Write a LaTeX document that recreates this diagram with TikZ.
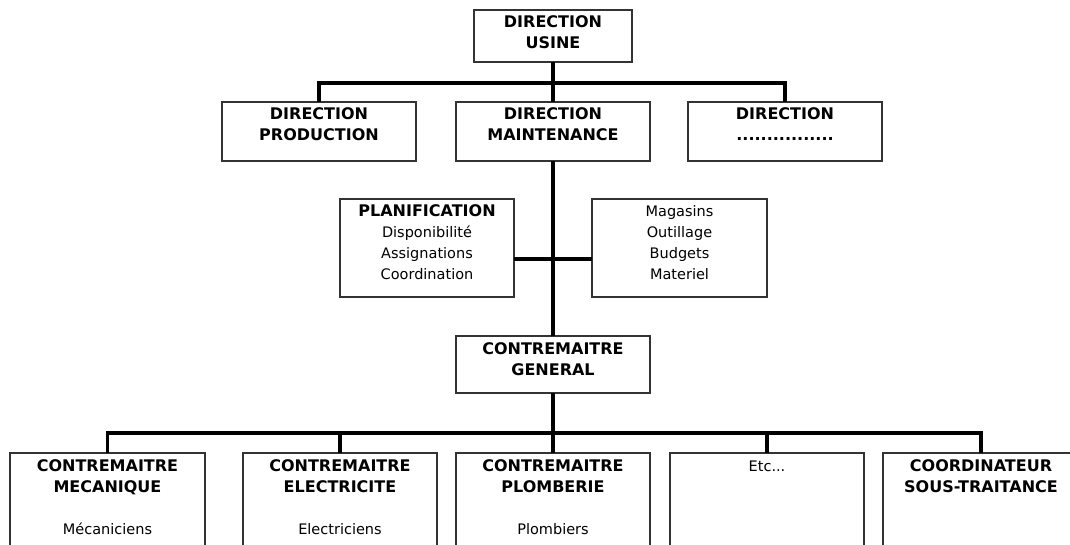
\documentclass[tikz,border=0pt]{standalone}
\usepackage{fontspec}
\setmainfont{DejaVu Sans}
\definecolor{boxgray}{HTML}{333333}
% heading and body text
\newcommand{\hd}{\fontsize{16pt}{21pt}\selectfont\bfseries}
\newcommand{\tx}{\fontsize{14.5pt}{21pt}\selectfont\mdseries}
% box content: width, height, text (top aligned, centred)
\newcommand{\boxtext}[3]{\parbox[c][#2pt][t]{#1pt}{\centering\rule{0pt}{18pt}#3}}
\begin{document}
\begin{tikzpicture}[x=1pt,y=-1pt,
  box/.style={draw=boxgray,line width=1.7pt,inner sep=0pt,outer sep=0pt,anchor=north west},
  link/.style={line width=3.3pt,black}]
\useasboundingbox (0,0) rectangle (1070,545);
\clip (0,0) rectangle (1070,545);

% top level
\node[box] (usine) at (474,10) {\boxtext{158}{52}{\hd DIRECTION\\USINE}};

% directions
\node[box] (prod)  at (222,102) {\boxtext{194}{59}{\hd DIRECTION\\PRODUCTION}};
\node[box] (maint) at (456,102) {\boxtext{194}{59}{\hd DIRECTION\\MAINTENANCE}};
\node[box] (autre) at (688,102) {\boxtext{194}{59}{\hd DIRECTION\\................}};

% staff functions
\node[box] (plan) at (340,199) {\boxtext{174}{98}{\hd PLANIFICATION\\\tx Disponibilité\\Assignations\\Coordination}};
\node[box] (mag)  at (592,199) {\boxtext{175}{98}{\tx Magasins\\Outillage\\Budgets\\Materiel}};

% general foreman
\node[box] (cg) at (456,336) {\boxtext{194}{57}{\hd CONTREMAITRE\\GENERAL}};

% trades
\node[box] (meca)  at (10,453)  {\boxtext{195}{120}{\hd CONTREMAITRE\\MECANIQUE\\[21pt]\tx Mécaniciens}};
\node[box] (elec)  at (243,453) {\boxtext{194}{120}{\hd CONTREMAITRE\\ELECTRICITE\\[21pt]\tx Electriciens}};
\node[box] (plomb) at (456,453) {\boxtext{194}{120}{\hd CONTREMAITRE\\PLOMBERIE\\[21pt]\tx Plombiers}};
\node[box] (etc)   at (670,453) {\boxtext{194}{120}{\tx Etc...}};
\node[box] (sst)   at (883,453) {\boxtext{196}{120}{\hd COORDINATEUR\\SOUS-TRAITANCE}};

% connectors
\coordinate (bus1) at (553,83);
\coordinate (hub)  at (553,259);
\coordinate (bus2) at (553,433);

\draw[link] (usine.south) -- (maint.north);
\draw[link] (prod.north) |- (bus1) -| (autre.north);
\draw[link] (maint.south) -- (cg.north);
\draw[link] (hub -| plan.east) -- (hub -| mag.west);
\draw[link] (cg.south) -- (plomb.north);
\draw[link] (meca.north) |- (bus2) -| (sst.north);
\draw[link] (elec.north) -- (elec.north |- bus2);
\draw[link] (etc.north) -- (etc.north |- bus2);
\end{tikzpicture}
\end{document}
